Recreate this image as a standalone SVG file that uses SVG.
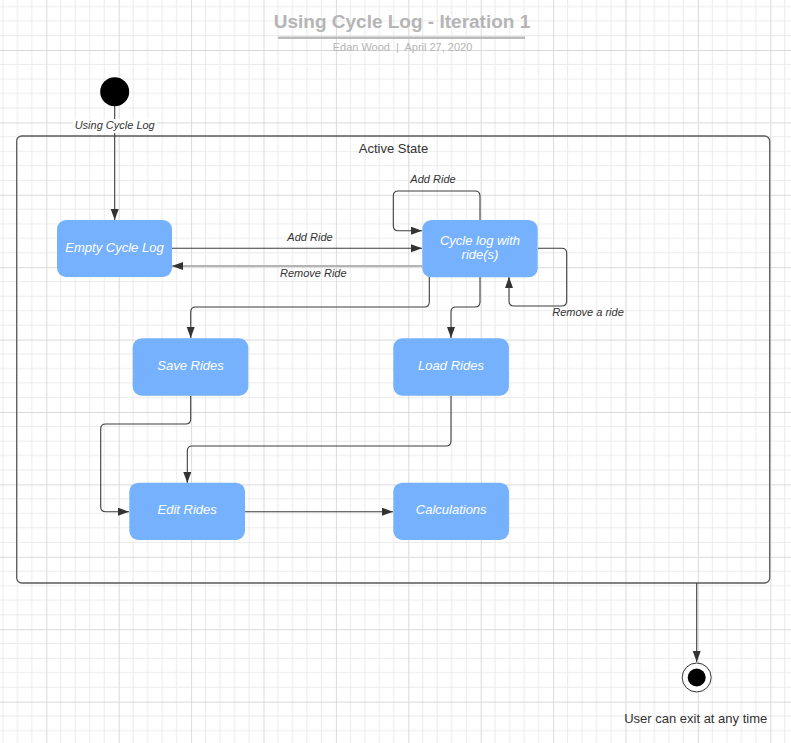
<svg xmlns="http://www.w3.org/2000/svg" width="791" height="743" viewBox="0 0 791 743">
<style>
.lbl{font-family:"Liberation Sans",Arial,sans-serif;font-size:11px;font-style:italic;fill:#333;text-anchor:middle}
.node rect{fill:#76b1fe;stroke:none}
.node text{font-family:"Liberation Sans",Arial,sans-serif;font-size:13px;font-style:italic;fill:#fff;text-anchor:middle}
.conn path{fill:none;stroke:#3d3d3d;stroke-width:1.1}
.txt{font-family:"Liberation Sans",Arial,sans-serif;fill:#333;text-anchor:middle}
</style>
<defs>
<pattern id="grid" patternUnits="userSpaceOnUse" x="46.3" y="50" width="72.4" height="72.4">
<path d="M14.48,0V72.4M28.96,0V72.4M43.44,0V72.4M57.92,0V72.4M0,14.48H72.4M0,28.96H72.4M0,43.44H72.4M0,57.92H72.4" stroke="#ebebeb" stroke-width="1" fill="none"/>
<path d="M0.5,0V72.4M0,0.5H72.4" stroke="#dadada" stroke-width="1" fill="none"/>
</pattern>
<marker id="arr" markerUnits="userSpaceOnUse" markerWidth="12" markerHeight="9" refX="11" refY="4" orient="auto" viewBox="0 0 12 9">
<path d="M0,0 L11,4 L0,8 z" fill="#333"/>
</marker>
</defs>
<rect width="791" height="743" fill="#fff"/>
<rect width="791" height="743" fill="url(#grid)"/>

<g id="title">
<text class="txt" x="402" y="27.5" style="font-size:19px;font-weight:bold;fill:#b5b5b5">Using Cycle Log - Iteration 1</text>
<line x1="278" y1="37.7" x2="525" y2="37.7" stroke="#bbb" stroke-width="2.5"/>
<text class="txt" x="402.5" y="51" style="font-size:11px;fill:#b5b5b5;white-space:pre">Edan Wood  |  April 27, 2020</text>
</g>

<g id="active-state">
<rect x="16.7" y="136" width="753" height="447" rx="5" fill="none" stroke="#5a5a5a" stroke-width="1.3"/>
<text class="txt" x="393.5" y="152.5" style="font-size:13px">Active State</text>
</g>

<g id="connectors" class="conn">
<path d="M114.7,106 V220" marker-end="url(#arr)"/>
<path d="M172,248.3 H422" marker-end="url(#arr)"/>
<path d="M422,266 H172" style="stroke:#b4b4b4;stroke-width:2.2" marker-end="url(#arr)"/>
<path d="M480,220 V196 Q480,191 475,191 H398.3 Q393.3,191 393.3,196 V225.7 Q393.3,230.7 398.3,230.7 H422" marker-end="url(#arr)"/>
<path d="M538,248.3 H561.7 Q566.7,248.3 566.7,253.3 V301 Q566.7,306 561.7,306 H514 Q509,306 509,301 V277" marker-end="url(#arr)"/>
<path d="M429.3,277 V302 Q429.3,307 424.3,307 H195.7 Q190.7,307 190.7,312 V338" marker-end="url(#arr)"/>
<path d="M480,277 V302 Q480,307 475,307 H456 Q451,307 451,312 V338" marker-end="url(#arr)"/>
<path d="M190.7,396 V419 Q190.7,424 185.7,424 H105.7 Q100.7,424 100.7,429 V506.7 Q100.7,511.7 105.7,511.7 H129" marker-end="url(#arr)"/>
<path d="M451,396 V441 Q451,446 446,446 H192.3 Q187.3,446 187.3,451 V483" marker-end="url(#arr)"/>
<path d="M245,511.7 H393" marker-end="url(#arr)"/>
<path d="M696.7,583 V662" marker-end="url(#arr)"/>
<rect x="73" y="119" width="84" height="14" fill="#fff"/>
<text class="lbl" x="114.7" y="128.5">Using Cycle Log</text>
<text class="lbl" x="310" y="240.7">Add Ride</text>
<text class="lbl" x="313.3" y="277.3">Remove Ride</text>
<text class="lbl" x="433" y="182.7">Add Ride</text>
<text class="lbl" x="588" y="316">Remove a ride</text>
</g>

<g id="initial">
<circle cx="114.7" cy="91.7" r="14.5" fill="#000"/>
</g>

<g id="empty-cycle-log" class="node">
<rect x="57" y="220" width="115" height="57" rx="9"/>
<text x="114.5" y="252">Empty Cycle Log</text>
</g>

<g id="cycle-log-with-rides" class="node">
<rect x="422.3" y="220" width="115.4" height="57.3" rx="9"/>
<text x="480" y="244.5">Cycle log with</text>
<text x="480" y="259">ride(s)</text>
</g>

<g id="save-rides" class="node">
<rect x="132.7" y="338.3" width="115.6" height="57.4" rx="9"/>
<text x="190.5" y="369.5">Save Rides</text>
</g>

<g id="load-rides" class="node">
<rect x="393.3" y="338.3" width="115.6" height="57.4" rx="9"/>
<text x="451" y="369.5">Load Rides</text>
</g>

<g id="edit-rides" class="node">
<rect x="129.3" y="482.7" width="115.7" height="57.3" rx="9"/>
<text x="187.2" y="513.5">Edit Rides</text>
</g>

<g id="calculations" class="node">
<rect x="393.3" y="482.7" width="115.7" height="57.3" rx="9"/>
<text x="451.2" y="513.5">Calculations</text>
</g>

<g id="final">
<circle cx="696.7" cy="677.5" r="14.5" fill="#fff" stroke="#333" stroke-width="1"/>
<circle cx="696.7" cy="677.5" r="9" fill="#000"/>
<text class="txt" x="695.7" y="723" style="font-size:13px">User can exit at any time</text>
</g>
</svg>
